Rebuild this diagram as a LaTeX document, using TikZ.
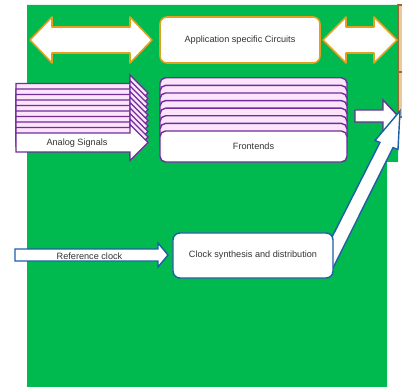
\documentclass[tikz,border=0pt]{standalone}
\usepackage{fontspec}
\setmainfont{Liberation Sans}
\usetikzlibrary{calc}
\definecolor{bggreen}{HTML}{00B94F}
\definecolor{ascorange}{HTML}{E3A020}
\definecolor{fepurple}{HTML}{6F2C9A}
\definecolor{fepink}{HTML}{FCE4FB}
\definecolor{clkblue}{HTML}{1F5DA6}
\definecolor{portfill}{HTML}{E9C89C}
\definecolor{portedge}{HTML}{9A6A32}
\definecolor{txtgray}{HTML}{333333}

\begin{document}
\begin{tikzpicture}[x=0.025cm, y=-0.025cm,
  lbl/.style={font=\fontsize{6.5}{7}\selectfont, text=txtgray},
  ascarrow/.style={draw=ascorange, fill=white, line width=1.1pt, line join=round},
  ascbox/.style={rectangle, draw=ascorange, fill=white, line width=1.1pt, rounded corners=5pt,
    minimum width=4cm, minimum height=1.15cm, lbl},
  sigarrow/.style={draw=fepurple, fill=#1, line width=1pt, line join=miter},
  febox/.style={rectangle, draw=fepurple, fill=#1, line width=1pt, rounded corners=4pt,
    minimum width=4.675cm, minimum height=0.775cm, lbl},
  clkarrow/.style={draw=clkblue, fill=white, line width=1pt, line join=miter},
  clkbox/.style={rectangle, draw=clkblue, fill=white, line width=1pt, rounded corners=5pt,
    minimum width=4cm, minimum height=1.125cm, lbl},
  port/.style={draw=portedge, fill=portfill, line width=0.8pt},
]
  \useasboundingbox (0,0) rectangle (402,387);

  % board
  \fill[bggreen] (27,5) -- (398,5) -- (398,162) -- (387,162) -- (387,387) -- (27,387) -- cycle;
  \draw[port] (398,5) rectangle (412,72);
  \draw[port] (398,72) rectangle (412,117);

  % top row
  \draw[ascarrow] (30,40) -- (52,17) -- (52,27) -- (130,27) -- (130,17) -- (152,40)
    -- (130,63) -- (130,53) -- (52,53) -- (52,63) -- cycle;
  \node[ascbox] (asc) at (240,40) {Application specific Circuits};
  \draw[ascarrow] (323,40) -- (346,17) -- (346,27) -- (374,27) -- (374,17) -- (397,40)
    -- (374,63) -- (374,53) -- (346,53) -- (346,63) -- cycle;

  % analog signals, stacked
  \foreach \k in {9,...,1} {
    \begin{scope}[shift={(0,{-5.5*\k})}]
      \draw[sigarrow=fepink] (16,133) -- (130,133) -- (130,124.5) -- (148,142.5)
        -- (130,160.5) -- (130,152) -- (16,152) -- cycle;
    \end{scope}
  }
  \draw[sigarrow=white] (16,133) -- (130,133) -- (130,124.5) -- (148,142.5)
    -- (130,160.5) -- (130,152) -- (16,152) -- cycle;
  \node[lbl] (sig) at (77,143) {Analog Signals};

  % frontends, stacked
  \foreach \k in {7,...,1}
    \node[febox=fepink] (fe\k) at (253.5,{146.5-7.6*\k}) {};
  \node[febox=white] (fe) at (253.5,146.5) {Frontends};

  \draw[sigarrow=white] (355,110) -- (383,110) -- (383,100) -- (398,116) -- (383,132)
    -- (383,122) -- (355,122) -- cycle;

  % clock path
  \draw[clkarrow] (15,249) -- (158,249) -- (158,243) -- (168,255) -- (158,267)
    -- (158,261) -- (15,261) -- cycle;
  \node[lbl] (ref) at (89.5,256) {Reference clock};

  \draw[clkarrow] (328,245) -- (380,142.4) -- (375,140.5) -- (400,111) -- (398,149.5)
    -- (393,147.6) -- (330,274) -- cycle;
  \node[clkbox] (clk) at (253,255.5) {Clock synthesis and distribution};
\end{tikzpicture}
\end{document}
